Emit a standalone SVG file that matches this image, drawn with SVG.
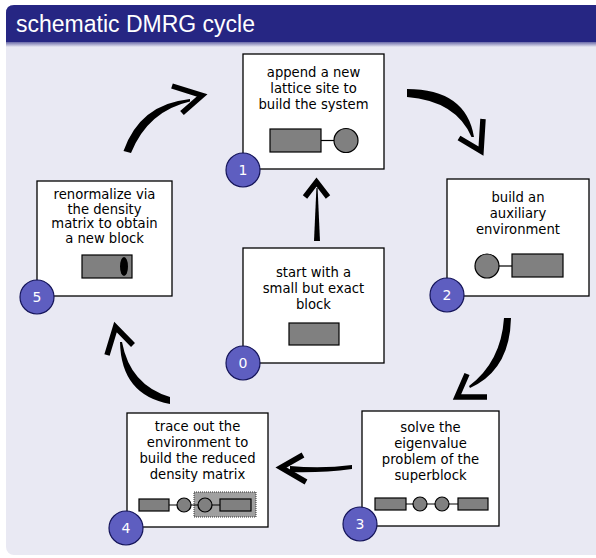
<svg xmlns="http://www.w3.org/2000/svg" width="596" height="558" viewBox="0 0 596 558">
  <defs>
    <linearGradient id="barShade" x1="0" y1="0" x2="0" y2="1">
      <stop offset="0" stop-color="#6a6aa8"/>
      <stop offset="1" stop-color="#e9e9f3"/>
    </linearGradient>
    <style>
      .box { fill: #ffffff; stroke: #000000; stroke-width: 1.3; }
      .lbl { font-family: "DejaVu Sans", sans-serif; font-size: 13.2px; fill: #000000; text-anchor: middle; }
      .blk { fill: #808080; stroke: #000000; stroke-width: 1.2; }
      .link { stroke: #000000; stroke-width: 1.2; }
      .badge { fill: #5e5ec0; stroke: #15155a; stroke-width: 1.2; }
      .num { font-family: "DejaVu Sans", sans-serif; font-size: 14px; fill: #ffffff; text-anchor: middle; }
      .shaft { fill: #000000; }
      .head { fill: none; stroke: #000000; stroke-width: 5.5; stroke-linejoin: miter; stroke-linecap: butt; }
    </style>
  </defs>

  <!-- block frame -->
  <rect x="6" y="5" width="600" height="550" rx="8" fill="#e9e9f3"/>
  <path d="M6,42 V13 Q6,5 14,5 H596 V42 Z" fill="#262683"/>
  <rect x="6" y="42" width="590" height="5" fill="url(#barShade)"/>
  <text x="16" y="32" font-family="Liberation Sans, Arial, sans-serif" font-size="23" fill="#ffffff">schematic DMRG cycle</text>

  <!-- connectors -->
  <g id="connectors">
    <!-- 0 to 1 -->
    <path class="shaft" d="M314,241 L320,241 L317.6,188 L316.4,188 Z"/>
    <polyline class="head" points="305,197 316.5,182 328,197"/>
    <!-- 1 to 2 -->
    <path class="shaft" d="M407,89 Q466,89 474,137 L471.5,137 Q456,101 407,97 Z"/>
    <polyline class="head" points="459,138 481,151 483,119"/>
    <!-- 2 to 3 -->
    <path class="shaft" d="M504,318 L511,318 Q510,370 470,388 L469,386 Q501,362 504,318 Z"/>
    <polyline class="head" points="467,374 457,397 487,397"/>
    <!-- 3 to 4 -->
    <path class="shaft" d="M352,465 Q322,469 290,466 L290,472 Q322,473 352,469 Z"/>
    <polyline class="head" points="303,455 281,467.5 306,482"/>
    <!-- 4 to 5 -->
    <path class="shaft" d="M170,397 Q130,385 122,342 L120,342 Q121,395 170,404 Z"/>
    <polyline class="head" points="107,355 115.5,327 133,345"/>
    <!-- 5 to 1 -->
    <path class="shaft" d="M123.5,151 Q140,104 190,99 L190,101.5 Q148,111 131,153 Z"/>
    <polyline class="head" points="172,86 202,95.5 182,113"/>
  </g>

  <!-- step 0 -->
  <g id="node0">
    <rect class="box" x="243" y="248" width="141" height="115"/>
    <text class="lbl" x="313.5" y="277">start with a</text>
    <text class="lbl" x="313.5" y="293">small but exact</text>
    <text class="lbl" x="313.5" y="309">block</text>
    <rect class="blk" x="289" y="323" width="50" height="22"/>
    <circle class="badge" cx="243" cy="363" r="17"/>
    <text class="num" x="243" y="368">0</text>
  </g>

  <!-- step 1 -->
  <g id="node1">
    <rect class="box" x="243" y="54" width="141" height="115"/>
    <text class="lbl" x="313.5" y="77">append a new</text>
    <text class="lbl" x="313.5" y="93">lattice site to</text>
    <text class="lbl" x="313.5" y="109">build the system</text>
    <rect class="blk" x="270" y="129" width="51" height="23"/>
    <line class="link" x1="321" y1="140.5" x2="334" y2="140.5"/>
    <circle class="blk" cx="346" cy="140.5" r="12"/>
    <circle class="badge" cx="243" cy="170" r="17"/>
    <text class="num" x="243" y="175">1</text>
  </g>

  <!-- step 2 -->
  <g id="node2">
    <rect class="box" x="447" y="179" width="142" height="117"/>
    <text class="lbl" x="518" y="202">build an</text>
    <text class="lbl" x="518" y="218">auxiliary</text>
    <text class="lbl" x="518" y="234">environment</text>
    <circle class="blk" cx="487" cy="266" r="12"/>
    <line class="link" x1="499" y1="266" x2="512" y2="266"/>
    <rect class="blk" x="512" y="254" width="51" height="23"/>
    <circle class="badge" cx="447" cy="295" r="17"/>
    <text class="num" x="447" y="300">2</text>
  </g>

  <!-- step 3 -->
  <g id="node3">
    <rect class="box" x="362" y="411" width="137" height="115"/>
    <text class="lbl" x="430.5" y="432">solve the</text>
    <text class="lbl" x="430.5" y="448">eigenvalue</text>
    <text class="lbl" x="430.5" y="464">problem of the</text>
    <text class="lbl" x="430.5" y="480">superblock</text>
    <rect class="blk" x="375" y="498" width="31" height="12"/>
    <line class="link" x1="406" y1="504" x2="458" y2="504"/>
    <circle class="blk" cx="420" cy="504" r="7"/>
    <circle class="blk" cx="442" cy="504" r="7"/>
    <rect class="blk" x="458" y="498" width="30" height="12"/>
    <circle class="badge" cx="360" cy="524" r="17"/>
    <text class="num" x="360" y="529">3</text>
  </g>

  <!-- step 4 -->
  <g id="node4">
    <rect class="box" x="127" y="413" width="141" height="114"/>
    <text class="lbl" x="197.5" y="431">trace out the</text>
    <text class="lbl" x="197.5" y="447">environment to</text>
    <text class="lbl" x="197.5" y="463">build the reduced</text>
    <text class="lbl" x="197.5" y="479">density matrix</text>
    <rect x="194" y="492" width="62" height="25" fill="#a0a0a0" stroke="#333333" stroke-width="1" stroke-dasharray="1,1"/>
    <line class="link" x1="169" y1="505" x2="220" y2="505"/>
    <rect class="blk" x="139" y="499" width="30" height="12"/>
    <circle class="blk" cx="184" cy="505" r="7"/>
    <circle class="blk" cx="205" cy="505" r="7"/>
    <rect class="blk" x="220" y="499" width="31" height="12"/>
    <circle class="badge" cx="126" cy="528" r="17"/>
    <text class="num" x="126" y="533">4</text>
  </g>

  <!-- step 5 -->
  <g id="node5">
    <rect class="box" x="37" y="181" width="135" height="115"/>
    <text class="lbl" x="104.5" y="199">renormalize via</text>
    <text class="lbl" x="104.5" y="213.5">the density</text>
    <text class="lbl" x="104.5" y="228">matrix to obtain</text>
    <text class="lbl" x="104.5" y="242.5">a new block</text>
    <rect class="blk" x="82" y="255" width="50" height="23"/>
    <ellipse cx="124" cy="266.5" rx="4" ry="9.5" fill="#000000"/>
    <circle class="badge" cx="37" cy="297" r="17"/>
    <text class="num" x="37" y="302">5</text>
  </g>
</svg>
